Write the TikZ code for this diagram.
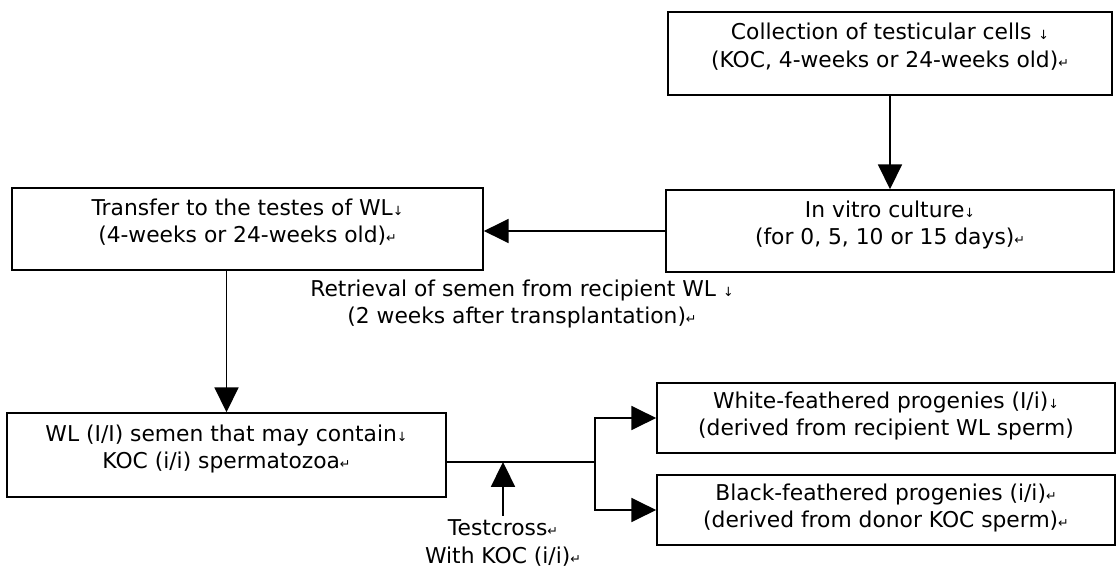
\documentclass[tikz,border=0pt]{standalone}
\usepackage{fontspec}
\setmainfont{DejaVu Sans}
\usetikzlibrary{arrows.meta}
\newcommand{\lbrk}{{\small ↓}}
\newcommand{\pmark}{{\small ↵}}
\begin{document}
\begin{tikzpicture}[x=0.025cm, y=-0.025cm,
  stage/.style={draw, line width=1.1pt, align=center, inner sep=0pt, text depth=0.42cm,
    font=\fontsize{15.5}{19.5}\selectfont},
  note/.style={align=center, inner sep=0pt, font=\fontsize{15.5}{19.5}\selectfont},
  flow/.style={line width=1.1pt, -{Triangle[length=0.62cm, width=0.6cm]}}]
  \useasboundingbox (0,0) rectangle (1120,572);
  % boxes
  \node[stage, minimum width=11.1cm, minimum height=2.075cm] (coll) at (890,53.5)
    {Collection of testicular cells \lbrk\\(KOC, 4-weeks or 24-weeks old)\pmark};
  \node[stage, minimum width=11.2cm, minimum height=2.05cm] (cult) at (890,231)
    {In vitro culture\lbrk\\(for 0, 5, 10 or 15 days)\pmark};
  \node[stage, minimum width=11.775cm, minimum height=2.05cm] (transfer) at (247.5,229)
    {Transfer to the testes of WL\lbrk\\(4-weeks or 24-weeks old)\pmark};
  \node[stage, minimum width=10.975cm, minimum height=2.1cm] (semen) at (226.5,455)
    {WL (I/I) semen that may contain\lbrk\\KOC (i/i) spermatozoa\pmark};
  \node[stage, minimum width=11.45cm, minimum height=1.75cm, text depth=0.2cm] (white) at (886,418)
    {White-feathered progenies (I/i)\lbrk\\(derived from recipient WL sperm)};
  \node[stage, minimum width=11.45cm, minimum height=1.75cm, text depth=0.2cm] (black) at (886,510)
    {Black-feathered progenies (i/i)\pmark\\(derived from donor KOC sperm)\pmark};
  % labels
  \node[note] (retr) at (522,304)
    {Retrieval of semen from recipient WL \lbrk\\(2 weeks after transplantation)\pmark};
  \node[note] (cross) at (503,543) {Testcross\pmark\\With KOC (i/i)\pmark};
  \coordinate (split) at (595,462);
  % arrows
  \draw[flow] (coll) -- (cult);
  \draw[flow] (cult.west) -- (cult.west -| transfer.east);
  \draw[flow] (semen.north |- transfer.south) -- (semen.north);
  \draw[line width=1.1pt] (semen.east |- split) -- (split);
  \draw[flow] (split) |- (white.west);
  \draw[flow] (split) |- (black.west);
  \draw[flow] ([yshift=0.1cm]cross.north) -- (cross.north |- split);
\end{tikzpicture}
\end{document}
